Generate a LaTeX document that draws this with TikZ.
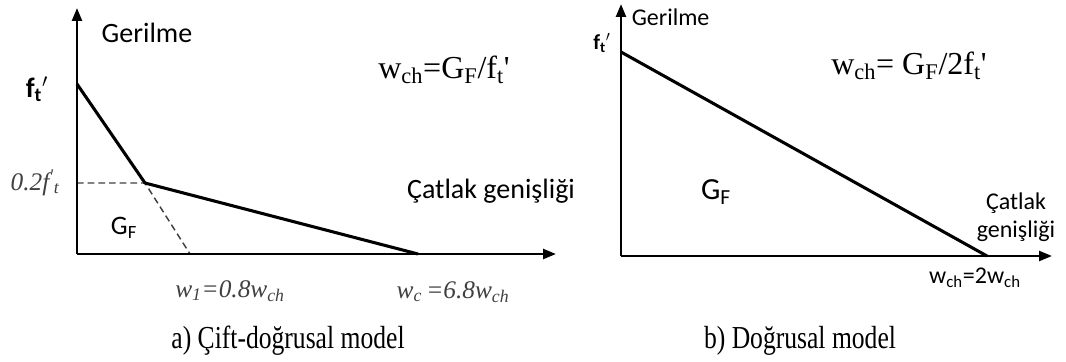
\documentclass[tikz,border=0pt]{standalone}
\usepackage{fontspec}
\setmainfont{Liberation Serif}
\setsansfont{Carlito}
\usetikzlibrary{arrows.meta, positioning}
\definecolor{cgrey}{HTML}{404040}
\newcommand{\fsz}[1]{\fontsize{#1}{1.15\dimexpr#1pt\relax}\selectfont}
\tikzset{
  every picture/.style={line width=1.2pt},
  axis/.style={-{Triangle[length=3.4mm, width=2.6mm]}, line width=1.9pt},
  curve/.style={line width=2.3pt, line join=round},
  guide/.style={draw=cgrey, line width=1.1pt, dash pattern=on 5pt off 3pt},
  label/.style={font=\sffamily, inner sep=0pt},
  formula/.style={font=\rmfamily, inner sep=0pt},
  itlabel/.style={font=\rmfamily\itshape, text=cgrey, inner sep=0pt},
  caption/.style={font=\rmfamily\fsz{24}, inner sep=0pt},
}

\begin{document}
\begin{tikzpicture}[x=0.75pt, y=-0.75pt]
  \useasboundingbox (0,0) rectangle (1066,361);
  % a) bilinear model
  \begin{scope}
    \coordinate (oa) at (77,254);
    \coordinate (ya) at (77,8);
    \coordinate (xa) at (556,254);
    \coordinate (fa) at (77,84);
    \coordinate (ka) at (145,183);
    \coordinate (ca) at (418,254);
    \coordinate (ha) at (77,183);
    \coordinate (ea) at (190,254);
    \draw[guide] (ha) -- (ka) -- (ea);
    \draw[curve] (fa) -- (ka) -- (ca);
    \draw[axis] (oa) -- (ya);
    \draw[axis] (oa) -- (xa);
    \node[label, font=\sffamily\fsz{21}] (gerilmeA) at (147,33) {Gerilme};
    \node[label, font=\sffamily\bfseries\fsz{21}] (ftA) at (37,89) {f\textsubscript{t}$'$};
    \node[itlabel, font=\rmfamily\itshape\fsz{19}] (lowA) at (35,183) {0.2f\textsuperscript{\textquotesingle}\textsubscript{t}};
    \node[label, font=\sffamily\fsz{20}] (gfA) at (124,228) {G\textsubscript{F}};
    \node[label, font=\sffamily\fsz{21}] (crackA) at (491,191) {Çatlak genişliği};
    \node[formula, font=\rmfamily\fsz{24}] (wchA) at (444,70) {w\textsubscript{ch}=G\textsubscript{F}/f\textsubscript{t}\textquotesingle};
    \node[itlabel, font=\rmfamily\itshape\fsz{19}] (w1A) at (230,291) {w\textsubscript{1}=0.8w\textsubscript{ch}};
    \node[itlabel, font=\rmfamily\itshape\fsz{19}] (wcA) at (453,292) {w\textsubscript{c}\,=6.8w\textsubscript{ch}};
    \node[caption] (capA) at (288,341) {\scalebox{0.8}[1]{a) Çift-doğrusal model}};
  \end{scope}
  % b) linear model
  \begin{scope}
    \coordinate (ob) at (621,256);
    \coordinate (yb) at (621,4);
    \coordinate (xb) at (1052,256);
    \coordinate (fb) at (621,52);
    \coordinate (cb) at (987,256);
    \draw[curve] (fb) -- (cb);
    \draw[axis] (ob) -- (yb);
    \draw[axis] (ob) -- (xb);
    \node[label, font=\sffamily\fsz{18}, anchor=west] (gerilmeB) at (631,17) {Gerilme};
    \node[label, font=\sffamily\bfseries\fsz{16}] (ftB) at (602,43) {f\textsubscript{t}$'$};
    \node[label, font=\sffamily\fsz{23}] (gfB) at (716,192) {G\textsubscript{F}};
    \node[formula, font=\rmfamily\fsz{24}] (wchB) at (909,66) {w\textsubscript{ch}= G\textsubscript{F}/2f\textsubscript{t}\textquotesingle};
    \node[label, font=\sffamily\fsz{18}, align=center] (crackB) at (1016,217) {Çatlak\\genişliği};
    \node[label, font=\sffamily\fsz{18}] (wB) at (975,278) {w\textsubscript{ch}=2w\textsubscript{ch}};
    \node[caption] (capB) at (800,341) {\scalebox{0.8}[1]{b) Doğrusal model}};
  \end{scope}
\end{tikzpicture}
\end{document}
